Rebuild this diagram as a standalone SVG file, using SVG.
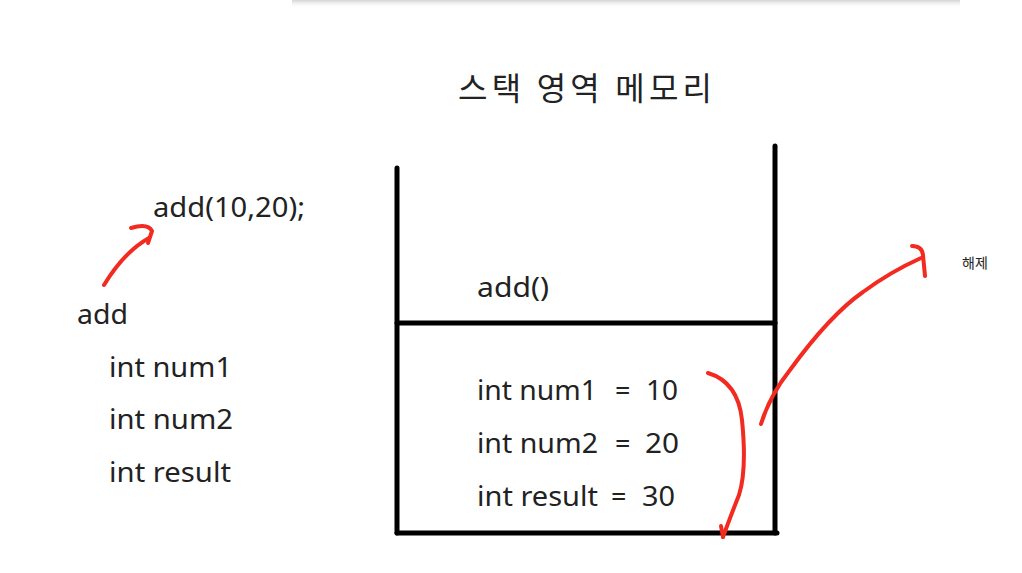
<svg xmlns="http://www.w3.org/2000/svg" width="1022" height="573" viewBox="0 0 1022 573">
<defs>
<linearGradient id="shadow" x1="0" y1="0" x2="0" y2="1">
<stop offset="0" stop-color="#d4d4d8"/>
<stop offset="1" stop-color="#ffffff" stop-opacity="0"/>
</linearGradient>
<style>
.t{font-family:"Noto Sans","Open Sans","Noto Sans CJK KR",sans-serif;font-size:27px;fill:#222}
.k{font-family:"Noto Sans CJK KR",sans-serif;fill:#222}
.box{stroke:#000;stroke-width:5;stroke-linecap:round;fill:none}
.red{stroke:#f22a1f;stroke-width:4;stroke-linecap:round;stroke-linejoin:round;fill:none}
</style>
</defs>
<rect width="1022" height="573" fill="#ffffff"/>
<rect x="292" y="0" width="668" height="8" fill="url(#shadow)"/>
<text class="k" x="585" y="100" font-size="32" text-anchor="middle" textLength="254" lengthAdjust="spacing">스택 영역 메모리</text>
<g id="stack">
<line class="box" x1="397" y1="168" x2="397" y2="533"/>
<line class="box" x1="775" y1="146" x2="775" y2="533"/>
<line class="box" x1="397" y1="323" x2="775" y2="323"/>
<line class="box" x1="397" y1="533" x2="777" y2="533"/>
</g>
<g id="frame-add">
<text class="t" x="477" y="297" textLength="72" lengthAdjust="spacingAndGlyphs">add()</text>
</g>
<g id="frame-vars">
<text class="t" y="400"><tspan x="477" textLength="120" lengthAdjust="spacingAndGlyphs">int num1</tspan> <tspan x="615">=</tspan> <tspan x="646" textLength="32" lengthAdjust="spacingAndGlyphs">10</tspan></text>
<text class="t" y="453"><tspan x="477" textLength="121" lengthAdjust="spacingAndGlyphs">int num2</tspan> <tspan x="615">=</tspan> <tspan x="645" textLength="34" lengthAdjust="spacingAndGlyphs">20</tspan></text>
<text class="t" y="506"><tspan x="477" textLength="121" lengthAdjust="spacingAndGlyphs">int result</tspan> <tspan x="611">=</tspan> <tspan x="642" textLength="33" lengthAdjust="spacingAndGlyphs">30</tspan></text>
</g>
<g id="call">
<text class="t" x="153" y="217" textLength="152" lengthAdjust="spacingAndGlyphs">add(10,20);</text>
</g>
<g id="add-def">
<text class="t" x="77" y="324" textLength="51" lengthAdjust="spacingAndGlyphs">add</text>
<text class="t" x="109" y="377" textLength="123" lengthAdjust="spacingAndGlyphs">int num1</text>
<text class="t" x="109" y="429" textLength="124" lengthAdjust="spacingAndGlyphs">int num2</text>
<text class="t" x="109" y="482" textLength="122" lengthAdjust="spacingAndGlyphs">int result</text>
</g>
<g id="release">
<text class="k" x="962" y="268" font-size="14">해제</text>
</g>
<g id="connectors">
<path class="red" d="M104,285 Q124,252 149,238"/>
<path class="red" d="M131,228 Q148,223 152,231 L148,243"/>
<path class="red" d="M708,373 Q738,382 742,420 Q747,470 739,495 Q731,515 723,537"/>
<path class="red" d="M721,526 L723,537"/>
<path class="red" d="M761,424 Q770,395 790,370 Q830,315 863,292 Q890,272 921,258"/>
<path class="red" d="M912,246 Q922,246 923,255 L925,276"/>
</g>
</svg>
